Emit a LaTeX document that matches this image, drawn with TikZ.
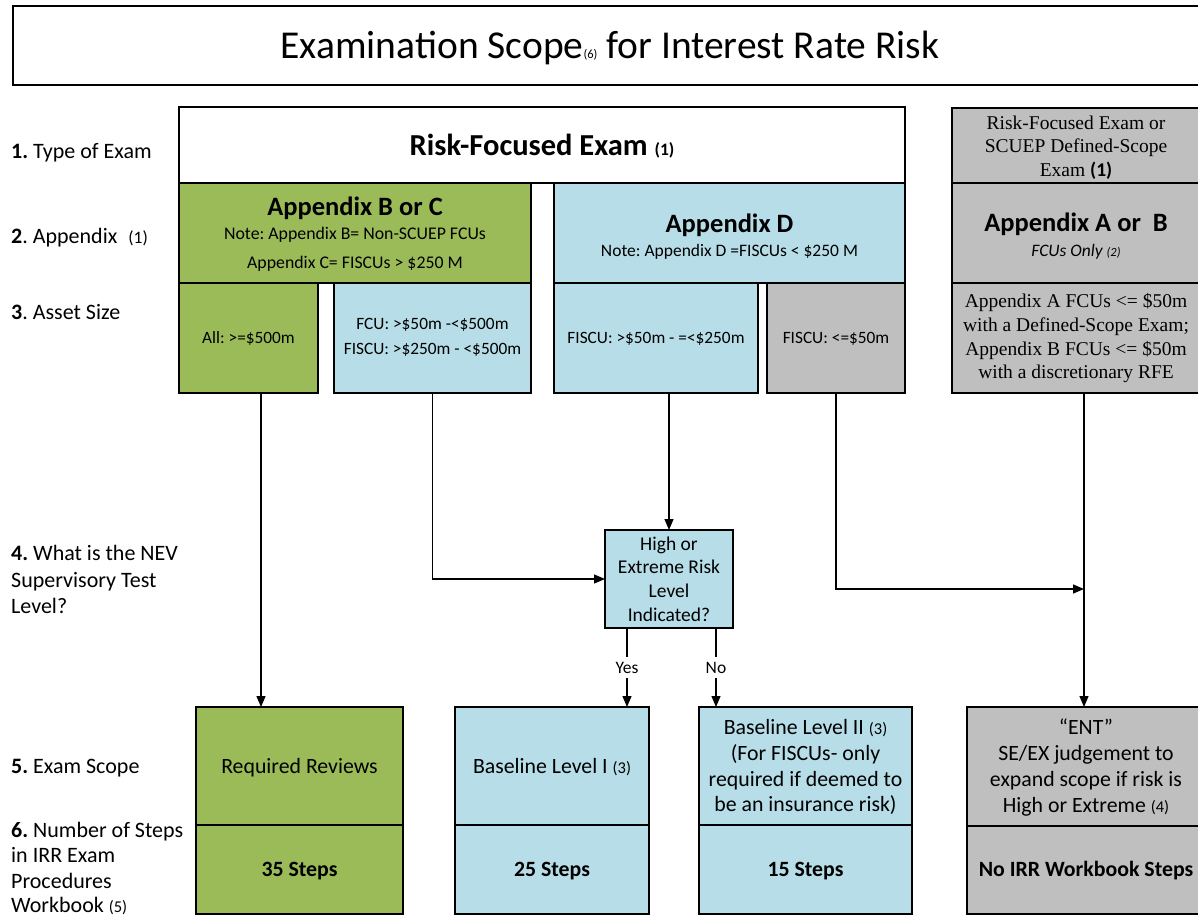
\documentclass[tikz,border=0pt]{standalone}
\usepackage{fontspec}
\setmainfont{Carlito}
\newfontfamily\timesface{Liberation Serif}
\usetikzlibrary{arrows.meta}
\definecolor{olivefill}{HTML}{9BBB59}
\definecolor{palefill}{HTML}{B7DDE8}
\definecolor{stonefill}{HTML}{BFBFBF}
\newcommand\fsz[2]{\fontsize{#1}{#2}\selectfont}
\frenchspacing
\begin{document}
\begin{tikzpicture}[x=1pt,y=-1pt,
  box/.style={draw=black,line width=1.3pt,rectangle,inner sep=0pt,outer sep=0pt,anchor=north west},
  grnbox/.style={box,fill=olivefill},
  bluebox/.style={box,fill=palefill},
  greybox/.style={box,fill=stonefill},
  t/.style={anchor=base,inner sep=0pt},
  rowlbl/.style={anchor=base west,inner sep=0pt,font=\fsz{22}{26}},
  conn/.style={draw=black,line width=1.3pt,-{Triangle[length=11pt,width=9pt]}},
  yn/.style={fill=white,inner xsep=2pt,inner ysep=5pt,font=\fsz{17.5}{20}}
]
\useasboundingbox (0,0) rectangle (1198,918);

% heading
\node[box,fill=white,line width=2pt,minimum width=1194pt,minimum height=79pt] (title) at (13,6) {};
\node[t,font=\fsz{39.5}{46}] (titleT) at (610,58) {Examination Scope{\fsz{12.5}{12.5}(6)} for Interest Rate Risk};

% row captions
\node[rowlbl] (l1) at (11,158) {\textbf{1.} Type of Exam};
\node[rowlbl] (l2) at (11,243) {\textbf{2}. Appendix\hspace{0.5em}{\fsz{17.5}{20}(1)}};
\node[rowlbl] (l3) at (11,319) {\textbf{3}. Asset Size};
\node[rowlbl] (l4a) at (11,560) {\textbf{4.} What is the NEV};
\node[rowlbl] (l4b) at (11,587) {Supervisory Test};
\node[rowlbl] (l4c) at (11,613) {Level?};
\node[rowlbl] (l5) at (11,773) {\textbf{5.} Exam Scope};
\node[rowlbl] (l6a) at (11,837) {\textbf{6.} Number of Steps};
\node[rowlbl] (l6b) at (11,862.5) {in IRR Exam};
\node[rowlbl] (l6c) at (11,888) {Procedures};
\node[rowlbl] (l6d) at (11,912.5) {Workbook {\fsz{16.5}{20}(5)}};

% exam type
\node[box,fill=white,minimum width=726pt,minimum height=76pt] (rf) at (179,107) {};
\node[t,font=\fsz{30.5}{35}\bfseries] (rfT) at (542,155) {Risk-Focused Exam {\fsz{17.5}{20}(1)}};

% appendices
\node[grnbox,minimum width=352pt,minimum height=100pt] (appbc) at (179,183) {};
\node[t,font=\fsz{26.5}{30}\bfseries] (appbcT1) at (355,215) {Appendix B or C};
\node[t,font=\fsz{17.8}{20}] (appbcT2) at (355,239) {Note: Appendix B= Non-SCUEP FCUs};
\node[t,font=\fsz{17.8}{20}] (appbcT3) at (355,268) {Appendix C= FISCUs > \$250 M};

\node[bluebox,minimum width=351pt,minimum height=100pt] (appd) at (554,183) {};
\node[t,font=\fsz{26.5}{30}\bfseries] (appdT1) at (729.5,232) {Appendix D};
\node[t,font=\fsz{17.5}{20}] (appdT2) at (729.5,256) {Note: Appendix D =FISCUs < \$250 M};

% asset sizes
\node[grnbox,minimum width=139pt,minimum height=110pt] (all) at (179,283) {};
\node[t,font=\fsz{17.3}{20}] (allT) at (248.5,343) {All: >=\$500m};

\node[bluebox,minimum width=197pt,minimum height=110pt] (fcu) at (334,283) {};
\node[t,font=\fsz{17.3}{20}] (fcuT1) at (432.5,329.5) {FCU: >\$50m -<\$500m};
\node[t,font=\fsz{17.3}{20}] (fcuT2) at (432.5,354.5) {FISCU: >\$250m - <\$500m};

\node[bluebox,minimum width=204pt,minimum height=110pt] (fmid) at (554,283) {};
\node[t,font=\fsz{17.3}{20}] (fmidT) at (656,343) {FISCU: >\$50m - =<\$250m};

\node[greybox,minimum width=138pt,minimum height=110pt] (fsmall) at (767,283) {};
\node[t,font=\fsz{17.3}{20}] (fsmallT) at (836,343) {FISCU: <=\$50m};

% right-hand column
\node[greybox,minimum width=248pt,minimum height=75pt] (r1) at (952,108) {};
\node[t,font=\fsz{19.5}{23}\timesface] (r1T1) at (1076,129) {Risk-Focused Exam or};
\node[t,font=\fsz{19.5}{23}\timesface] (r1T2) at (1076,152.5) {SCUEP Defined-Scope};
\node[t,font=\fsz{19.5}{23}\timesface] (r1T3) at (1076,176) {Exam {\rmfamily\bfseries(1)}};

\node[greybox,minimum width=248pt,minimum height=100pt] (r2) at (952,183) {};
\node[t,font=\fsz{26.5}{30}\bfseries] (r2T1) at (1076,231) {Appendix A or\ \ B};
\node[t,font=\fsz{17.5}{20}\itshape] (r2T2) at (1076,256) {FCUs Only {\fsz{12.5}{14}(2)}};

\node[greybox,minimum width=248pt,minimum height=110pt] (r3) at (952,283) {};
\node[t,font=\fsz{19.5}{23}\timesface] (r3T1) at (1076,307) {Appendix A FCUs <= \$50m};
\node[t,font=\fsz{19.5}{23}\timesface] (r3T2) at (1076,331) {with a Defined-Scope Exam;};
\node[t,font=\fsz{19.5}{23}\timesface] (r3T3) at (1076,355) {Appendix B FCUs <= \$50m};
\node[t,font=\fsz{19.5}{23}\timesface] (r3T4) at (1076,378) {with a discretionary RFE};

% supervisory test question
\node[bluebox,minimum width=128pt,minimum height=98pt] (dec) at (605,530) {};
\node[t,font=\fsz{19.5}{23}] (decT1) at (669,550) {High or};
\node[t,font=\fsz{19.5}{23}] (decT2) at (669,573.5) {Extreme Risk};
\node[t,font=\fsz{19.5}{23}] (decT3) at (669,597) {Level};
\node[t,font=\fsz{19.5}{23}] (decT4) at (669,621) {Indicated?};

% exam scope and workbook steps
\node[grnbox,minimum width=207pt,minimum height=118pt] (rr) at (196,707) {};
\node[grnbox,minimum width=207pt,minimum height=89pt] (rrs) at (196,825) {};
\node[t,font=\fsz{21.8}{25}] (rrT) at (299.5,773) {Required Reviews};
\node[t,font=\fsz{21.8}{25}\bfseries] (rrsT) at (299.5,876) {35 Steps};

\node[bluebox,minimum width=194pt,minimum height=118pt] (b1) at (455,707) {};
\node[bluebox,minimum width=194pt,minimum height=89pt] (b1s) at (455,825) {};
\node[t,font=\fsz{21.8}{25}] (b1T) at (552,773) {Baseline Level I {\fsz{16.5}{20}(3)}};
\node[t,font=\fsz{21.8}{25}\bfseries] (b1sT) at (552,876) {25 Steps};

\node[bluebox,minimum width=213pt,minimum height=118pt] (b2) at (699,707) {};
\node[bluebox,minimum width=213pt,minimum height=89pt] (b2s) at (699,825) {};
\node[t,font=\fsz{21.8}{25}] (b2T1) at (805.5,734) {Baseline Level II {\fsz{16.5}{20}(3)}};
\node[t,font=\fsz{21.8}{25}] (b2T2) at (805.5,760.5) {(For FISCUs- only};
\node[t,font=\fsz{21.8}{25}] (b2T3) at (805.5,786) {required if deemed to};
\node[t,font=\fsz{21.8}{25}] (b2T4) at (805.5,811.5) {be an insurance risk)};
\node[t,font=\fsz{21.8}{25}\bfseries] (b2sT) at (805.5,876) {15 Steps};

\node[greybox,minimum width=238pt,minimum height=119pt] (ent) at (967,707) {};
\node[greybox,minimum width=238pt,minimum height=88pt] (ents) at (967,826) {};
\node[t,font=\fsz{21.8}{25}] (entT1) at (1086,734) {“ENT”};
\node[t,font=\fsz{21.8}{25}] (entT2) at (1086,760.5) {SE/EX judgement to};
\node[t,font=\fsz{21.8}{25}] (entT3) at (1086,786.5) {expand scope if risk is};
\node[t,font=\fsz{21.8}{25}] (entT4) at (1086,812.5) {High or Extreme {\fsz{16.5}{20}(4)}};
\node[t,font=\fsz{21.8}{25}\bfseries] (entsT) at (1086,876) {No IRR Workbook Steps};

% connector guide points
\coordinate (ax) at (261,0);
\coordinate (jn) at (1084,589);
\coordinate (yx) at (627,0);
\coordinate (nx) at (716,0);

% connectors
\draw[conn] (all.south -| ax) -- (rr.north -| ax);
\draw[conn] (fcu.south) |- (dec.west);
\draw[conn] (fmid.south -| dec.north) -- (dec.north);
\draw[conn] (fsmall.south) |- (jn);
\draw[conn] (r3.south -| jn) -- (ent.north -| jn);
\draw[conn] (dec.south -| yx) -- node[yn] (yes) {Yes} (b1.north -| yx);
\draw[conn] (dec.south -| nx) -- node[yn] (no) {No} (b2.north -| nx);
\end{tikzpicture}
\end{document}
